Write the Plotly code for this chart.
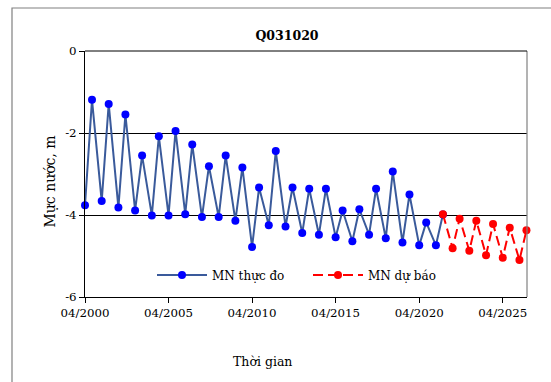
import plotly.graph_objects as go

# ---- data ----
obs_dates = [
    "2000-04-01", "2000-09-01", "2001-04-01", "2001-09-01", "2002-04-01", "2002-09-01",
    "2003-04-01", "2003-09-01", "2004-04-01", "2004-09-01", "2005-04-01", "2005-09-01",
    "2006-04-01", "2006-09-01", "2007-04-01", "2007-09-01", "2008-04-01", "2008-09-01",
    "2009-04-01", "2009-09-01", "2010-04-01", "2010-09-01", "2011-04-01", "2011-09-01",
    "2012-04-01", "2012-09-01", "2013-04-01", "2013-09-01", "2014-04-01", "2014-09-01",
    "2015-04-01", "2015-09-01", "2016-04-01", "2016-09-01", "2017-04-01", "2017-09-01",
    "2018-04-01", "2018-09-01", "2019-04-01", "2019-09-01", "2020-04-01", "2020-09-01",
    "2021-04-01", "2021-09-01",
]
obs_values = [
    -3.76, -1.19, -3.66, -1.29, -3.82, -1.55,
    -3.89, -2.55, -4.01, -2.08, -4.01, -1.95,
    -3.98, -2.28, -4.05, -2.81, -4.05, -2.55,
    -4.14, -2.84, -4.78, -3.33, -4.25, -2.44,
    -4.28, -3.33, -4.44, -3.36, -4.48, -3.36,
    -4.54, -3.89, -4.64, -3.86, -4.48, -3.36,
    -4.57, -2.94, -4.67, -3.50, -4.74, -4.18,
    -4.74, -3.99,
]
fc_dates = [
    "2021-09-01", "2022-04-01", "2022-09-01", "2023-04-01", "2023-09-01",
    "2024-04-01", "2024-09-01", "2025-04-01", "2025-09-01", "2026-04-01", "2026-09-01",
]
fc_values = [-3.98, -4.81, -4.09, -4.87, -4.14, -4.98, -4.22, -5.04, -4.31, -5.10, -4.37]

x_tick_vals = ["2000-04-01", "2005-04-01", "2010-04-01", "2015-04-01", "2020-04-01", "2025-04-01"]
x_tick_text = ["04/2000", "04/2005", "04/2010", "04/2015", "04/2020", "04/2025"]
y_tick_vals = [0, -2, -4, -6]
y_tick_text = ["0", "-2", "-4", "-6"]

title_text = "Q031020"
y_title = "Mực nước, m"
x_title = "Thời gian"
name_obs = "MN thực đo"
name_fc = "MN dự báo"

FONT = "DejaVu Serif"

# layout geometry (px)
W, H = 551, 382
L, R, T, B = 85, 527, 51, 297
pw, ph = R - L, B - T


def px_x(px):
    return (px - L) / pw


def px_y(py):
    return (B - py) / ph


fig = go.Figure()
fig.add_trace(go.Scatter(
    x=obs_dates, y=obs_values, name=name_obs, mode="lines+markers",
    line=dict(color="#3A5A9B", width=2),
    marker=dict(color="#0000FF", size=8, line=dict(width=0)),
    cliponaxis=False,
))
fig.add_trace(go.Scatter(
    x=fc_dates, y=fc_values, name=name_fc, mode="lines+markers",
    line=dict(color="#FF0000", width=2, dash="10px,5px"),
    marker=dict(color="#FF0000", size=8, line=dict(width=0)),
    cliponaxis=False,
))

shapes = [
    dict(type="rect", xref="paper", yref="paper",
         x0=px_x(12), x1=px_x(620), y0=px_y(460), y1=px_y(8),
         line=dict(color="#808080", width=1.2), fillcolor="rgba(0,0,0,0)", layer="below"),
    dict(type="line", xref="paper", yref="paper", x0=1, x1=1, y0=0, y1=1,
         line=dict(color="#808080", width=1.2)),
    dict(type="line", xref="paper", yref="paper", x0=0, x1=1, y0=1, y1=1,
         line=dict(color="#000000", width=1)),
]

annotations = [
    dict(text=y_title, xref="paper", yref="paper", x=px_x(49), y=px_y(181.5),
         textangle=-90, showarrow=False, xanchor="center", yanchor="middle",
         font=dict(family=FONT, size=14, color="#000")),
    dict(text=x_title, xref="paper", yref="paper", x=px_x(262.5), y=px_y(361),
         showarrow=False, xanchor="center", yanchor="middle",
         font=dict(family=FONT, size=12.5, color="#000")),
]

fig.update_layout(
    width=W, height=H,
    margin=dict(l=L, r=W - R, t=T, b=H - B, pad=0),
    paper_bgcolor="white", plot_bgcolor="white",
    font=dict(family=FONT, size=12, color="#000"),
    title=dict(text="<b>" + title_text + "</b>", x=287 / W, y=1 - 35.7 / H,
               xanchor="center", yanchor="middle",
               font=dict(family=FONT, size=12.5, color="#000")),
    showlegend=True,
    legend=dict(orientation="h", x=px_x(152), y=px_y(275), xanchor="left", yanchor="middle",
                bgcolor="rgba(0,0,0,0)", font=dict(family=FONT, size=12, color="#000"),
                entrywidth=91, entrywidthmode="pixels", itemwidth=50),
    xaxis=dict(
        type="date", range=["2000-04-01", "2026-09-13"],
        tickvals=x_tick_vals, ticktext=x_tick_text,
        showgrid=False, zeroline=False,
        showline=True, linecolor="#000", linewidth=1,
        ticks="outside", ticklen=5, tickcolor="#000", tickwidth=1,
        tickfont=dict(family=FONT, size=11.8, color="#000"),
    ),
    yaxis=dict(
        range=[-6, 0], tickvals=y_tick_vals, ticktext=y_tick_text,
        showgrid=True, gridcolor="#000", gridwidth=1, zeroline=False,
        showline=True, linecolor="#000", linewidth=1,
        ticks="outside", ticklen=5, tickcolor="#000", tickwidth=1,
        tickfont=dict(family=FONT, size=11.8, color="#000"),
    ),
    shapes=shapes,
    annotations=annotations,
)

fig.write_html("out.html")
